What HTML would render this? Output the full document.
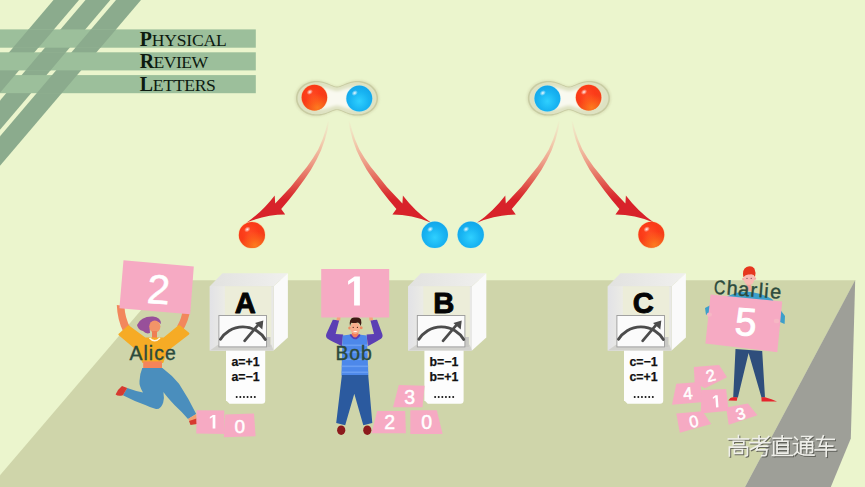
<!DOCTYPE html>
<html><head><meta charset="utf-8"><title>PRL</title>
<style>
html,body{margin:0;padding:0;background:#ebf5cd;}
body{width:865px;height:487px;overflow:hidden;font-family:"Liberation Sans",sans-serif;}
svg{display:block;position:absolute;left:0;top:0;}
text{font-family:"Liberation Sans",sans-serif;}
.serif{font-family:"Liberation Serif",serif;}
</style></head><body>
<svg width="865" height="487" viewBox="0 0 865 487">
<defs>
<radialGradient id="gRed" cx="0.42" cy="0.40" r="0.62">
<stop offset="0" stop-color="#ff4a22"/><stop offset="0.55" stop-color="#fb3a18"/><stop offset="1" stop-color="#f2401a"/>
</radialGradient>
<radialGradient id="gRedGlow" cx="0.62" cy="0.9" r="0.55">
<stop offset="0" stop-color="#ff8a20" stop-opacity="0.8"/><stop offset="1" stop-color="#ff8a20" stop-opacity="0"/>
</radialGradient>
<radialGradient id="gBlue" cx="0.5" cy="0.6" r="0.6">
<stop offset="0" stop-color="#2fd0ff"/><stop offset="0.6" stop-color="#18b4f2"/><stop offset="1" stop-color="#12a6ea"/>
</radialGradient>
<radialGradient id="gHi" cx="0.5" cy="0.5" r="0.5">
<stop offset="0" stop-color="#ffffff" stop-opacity="0.95"/><stop offset="0.5" stop-color="#ffffff" stop-opacity="0.45"/><stop offset="1" stop-color="#ffffff" stop-opacity="0"/>
</radialGradient>
<filter id="b1" x="-20%" y="-20%" width="140%" height="140%"><feGaussianBlur stdDeviation="0.6"/></filter>
<filter id="b2" x="-20%" y="-20%" width="140%" height="140%"><feGaussianBlur stdDeviation="2.2"/></filter>
<filter id="b3" x="-20%" y="-20%" width="140%" height="140%"><feGaussianBlur stdDeviation="1.0"/></filter>
<linearGradient id="gArrow" x1="0" y1="120" x2="0" y2="200" gradientUnits="userSpaceOnUse">
<stop offset="0" stop-color="#f3d6bc" stop-opacity="0"/>
<stop offset="0.12" stop-color="#f3d6bc" stop-opacity="0.55"/>
<stop offset="0.3" stop-color="#f2c4a8" stop-opacity="0.9"/>
<stop offset="0.52" stop-color="#eea08a" stop-opacity="1"/>
<stop offset="0.74" stop-color="#e4685a" stop-opacity="1"/>
<stop offset="0.92" stop-color="#da3434" stop-opacity="1"/>
<stop offset="1" stop-color="#d8222a" stop-opacity="1"/>
</linearGradient>
<linearGradient id="gTop" x1="0" y1="0" x2="1" y2="0">
<stop offset="0" stop-color="#e2e2e0"/><stop offset="1" stop-color="#f0f0ee"/>
</linearGradient>
<linearGradient id="gInL" x1="0" y1="0" x2="1" y2="0">
<stop offset="0" stop-color="#e2e2e6"/><stop offset="1" stop-color="#ecece6"/>
</linearGradient>
</defs>

<polygon points="166.6,280.2 855.2,280.2 745,487 0,487 0,475.2" fill="#cfd5aa"/>
<polygon points="855.2,280 850.8,438.5 830.8,487 745,487" fill="#9e9f98"/>
<polygon points="53.5,0 79.0,0 -69.9,175 -95.4,175" fill="#8bab8d"/>
<polygon points="85.5,0 110.3,0 -38.6,175 -63.4,175" fill="#8bab8d"/>
<polygon points="116.0,0 141.0,0 -7.9,175 -32.9,175" fill="#8bab8d"/>
<rect x="0" y="29.4" width="255.8" height="18.3" fill="#9cbf9b"/>
<rect x="0" y="52.3" width="255.8" height="18.1" fill="#9cbf9b"/>
<rect x="0" y="75.1" width="255.8" height="18.1" fill="#9cbf9b"/>
<polygon points="28.5,29.4 54.0,29.4 38.4,47.7 12.9,47.7" fill="#8bab8d"/>
<polygon points="91.0,29.4 116.0,29.4 100.4,47.7 75.4,47.7" fill="#8bab8d"/>
<polygon points="41.0,52.3 65.8,52.3 50.4,70.4 25.6,70.4" fill="#8bab8d"/>
<polygon points="-10.4,75.1 15.1,75.1 -0.3,93.2 -25.8,93.2" fill="#8bab8d"/>
<polygon points="52.1,75.1 77.1,75.1 61.7,93.2 36.7,93.2" fill="#8bab8d"/>
<text class="serif" x="139.8" y="45.6" fill="#0d1a10" letter-spacing="-0.22"><tspan font-size="19.9" font-weight="bold">P</tspan><tspan font-size="17.6">HYSICAL</tspan></text>
<text class="serif" x="139.8" y="68.4" fill="#0d1a10" letter-spacing="-0.56"><tspan font-size="19.9" font-weight="bold">R</tspan><tspan font-size="17.6">EVIEW</tspan></text>
<text class="serif" x="139.8" y="91.3" fill="#0d1a10" letter-spacing="-0.28"><tspan font-size="19.9" font-weight="bold">L</tspan><tspan font-size="17.6">ETTERS</tspan></text>
<defs><path id="mb" d="M-41.01,-0.00 L-40.98,-0.97 L-40.88,-1.94 L-40.73,-2.91 L-40.51,-3.86 L-40.22,-4.81 L-39.88,-5.74 L-39.47,-6.66 L-39.00,-7.55 L-38.48,-8.43 L-37.89,-9.28 L-37.24,-10.10 L-36.54,-10.89 L-35.78,-11.66 L-34.97,-12.38 L-34.10,-13.07 L-33.18,-13.72 L-32.21,-14.32 L-31.18,-14.88 L-30.11,-15.38 L-29.00,-15.84 L-27.84,-16.24 L-26.63,-16.58 L-25.39,-16.86 L-24.11,-17.08 L-22.78,-17.23 L-21.43,-17.30 L-20.04,-17.31 L-18.62,-17.23 L-17.17,-17.08 L-15.69,-16.84 L-14.19,-16.51 L-12.67,-16.10 L-11.13,-15.59 L-9.57,-15.01 L-8.00,-14.35 L-6.42,-13.66 L-4.82,-12.96 L-3.22,-12.34 L-1.61,-11.90 L-0.00,-11.74 L1.61,-11.90 L3.22,-12.34 L4.82,-12.96 L6.42,-13.66 L8.00,-14.35 L9.57,-15.01 L11.13,-15.59 L12.67,-16.10 L14.19,-16.51 L15.69,-16.84 L17.17,-17.08 L18.62,-17.23 L20.04,-17.31 L21.43,-17.30 L22.78,-17.23 L24.11,-17.08 L25.39,-16.86 L26.63,-16.58 L27.84,-16.24 L29.00,-15.84 L30.11,-15.38 L31.18,-14.88 L32.21,-14.32 L33.18,-13.72 L34.10,-13.07 L34.97,-12.38 L35.78,-11.66 L36.54,-10.89 L37.24,-10.10 L37.89,-9.28 L38.48,-8.43 L39.00,-7.55 L39.47,-6.66 L39.88,-5.74 L40.22,-4.81 L40.51,-3.86 L40.73,-2.91 L40.88,-1.94 L40.98,-0.97 L41.01,-0.00 L40.98,0.97 L40.88,1.94 L40.73,2.91 L40.51,3.86 L40.22,4.81 L39.88,5.74 L39.47,6.66 L39.00,7.55 L38.48,8.43 L37.89,9.28 L37.24,10.10 L36.54,10.89 L35.78,11.66 L34.97,12.38 L34.10,13.07 L33.18,13.72 L32.21,14.32 L31.18,14.88 L30.11,15.38 L29.00,15.84 L27.84,16.24 L26.63,16.58 L25.39,16.86 L24.11,17.08 L22.78,17.23 L21.43,17.30 L20.04,17.31 L18.62,17.23 L17.17,17.08 L15.69,16.84 L14.19,16.51 L12.67,16.10 L11.13,15.59 L9.57,15.01 L8.00,14.35 L6.42,13.66 L4.82,12.96 L3.22,12.34 L1.61,11.90 L-0.00,11.74 L-1.61,11.90 L-3.22,12.34 L-4.82,12.96 L-6.42,13.66 L-8.00,14.35 L-9.57,15.01 L-11.13,15.59 L-12.67,16.10 L-14.19,16.51 L-15.69,16.84 L-17.17,17.08 L-18.62,17.23 L-20.04,17.31 L-21.43,17.30 L-22.78,17.23 L-24.11,17.08 L-25.39,16.86 L-26.63,16.58 L-27.84,16.24 L-29.00,15.84 L-30.11,15.38 L-31.18,14.88 L-32.21,14.32 L-33.18,13.72 L-34.10,13.07 L-34.97,12.38 L-35.78,11.66 L-36.54,10.89 L-37.24,10.10 L-37.89,9.28 L-38.48,8.43 L-39.00,7.55 L-39.47,6.66 L-39.88,5.74 L-40.22,4.81 L-40.51,3.86 L-40.73,2.91 L-40.88,1.94 L-40.98,0.97 Z"/></defs>
<g transform="translate(337.0,98.3)">
<use href="#mb" fill="#d9ddb6" transform="scale(1.03,1.05)" filter="url(#b3)" opacity="0.8"/>
<use href="#mb" fill="#c8cca2" filter="url(#b1)"/>
<use href="#mb" fill="#dee2c2" transform="scale(0.962,0.925)" filter="url(#b1)"/>
<use href="#mb" fill="#f9f9f0" transform="scale(0.8,0.62)" filter="url(#b2)"/>
</g>
<circle cx="314.4" cy="97.6" r="13.4" fill="#ffb060" opacity="0.35" filter="url(#b1)"/>
<circle cx="314.4" cy="97.6" r="12.8" fill="url(#gRed)"/>
<circle cx="314.4" cy="97.6" r="12.8" fill="url(#gRedGlow)"/>
<ellipse cx="309.79999999999995" cy="92.0" rx="3.4" ry="2.6" fill="url(#gHi)" transform="rotate(-35 309.79999999999995 92.0)"/>
<circle cx="359.3" cy="98.6" r="13.6" fill="#9fe6ff" opacity="0.35" filter="url(#b1)"/>
<circle cx="359.3" cy="98.6" r="13.0" fill="url(#gBlue)"/>
<ellipse cx="354.7" cy="93.0" rx="3.4" ry="2.6" fill="url(#gHi)" transform="rotate(-35 354.7 93.0)"/>
<g transform="translate(568.9,98.3)">
<use href="#mb" fill="#d9ddb6" transform="scale(1.03,1.05)" filter="url(#b3)" opacity="0.8"/>
<use href="#mb" fill="#c8cca2" filter="url(#b1)"/>
<use href="#mb" fill="#dee2c2" transform="scale(0.962,0.925)" filter="url(#b1)"/>
<use href="#mb" fill="#f9f9f0" transform="scale(0.8,0.62)" filter="url(#b2)"/>
</g>
<circle cx="547.4" cy="98.6" r="13.6" fill="#9fe6ff" opacity="0.35" filter="url(#b1)"/>
<circle cx="547.4" cy="98.6" r="13.0" fill="url(#gBlue)"/>
<ellipse cx="542.8" cy="93.0" rx="3.4" ry="2.6" fill="url(#gHi)" transform="rotate(-35 542.8 93.0)"/>
<circle cx="588.6" cy="97.6" r="13.4" fill="#ffb060" opacity="0.35" filter="url(#b1)"/>
<circle cx="588.6" cy="97.6" r="12.8" fill="url(#gRed)"/>
<circle cx="588.6" cy="97.6" r="12.8" fill="url(#gRedGlow)"/>
<ellipse cx="584.0" cy="92.0" rx="3.4" ry="2.6" fill="url(#gHi)" transform="rotate(-35 584.0 92.0)"/>
<path d="M328.0,120.6 L325.7,129.8 L322.6,139.2 L318.2,149.4 L312.9,158.3 L306.8,167.1 L299.9,175.5 L290.7,186.9 L283.2,195.0 L275.2,203.6 L274.7,195.4 Q262.5,211.5 246.4,222.7 Q266,214.6 285.2,214.6 L281.2,209.0 L288.8,200.0 L295.9,191.1 L304.7,179.1 L310.8,169.9 L316.3,160.3 L321.0,150.6 L324.8,140.0 L327.5,130.2 L329.2,120.8 Z" fill="url(#gArrow)" transform="translate(0,0)"/>
<path d="M328.0,120.6 L325.7,129.8 L322.6,139.2 L318.2,149.4 L312.9,158.3 L306.8,167.1 L299.9,175.5 L290.7,186.9 L283.2,195.0 L275.2,203.6 L274.7,195.4 Q262.5,211.5 246.4,222.7 Q266,214.6 285.2,214.6 L281.2,209.0 L288.8,200.0 L295.9,191.1 L304.7,179.1 L310.8,169.9 L316.3,160.3 L321.0,150.6 L324.8,140.0 L327.5,130.2 L329.2,120.8 Z" fill="url(#gArrow)" transform="translate(677.6,0) scale(-1,1)"/>
<path d="M328.0,120.6 L325.7,129.8 L322.6,139.2 L318.2,149.4 L312.9,158.3 L306.8,167.1 L299.9,175.5 L290.7,186.9 L283.2,195.0 L275.2,203.6 L274.7,195.4 Q262.5,211.5 246.4,222.7 Q266,214.6 285.2,214.6 L281.2,209.0 L288.8,200.0 L295.9,191.1 L304.7,179.1 L310.8,169.9 L316.3,160.3 L321.0,150.6 L324.8,140.0 L327.5,130.2 L329.2,120.8 Z" fill="url(#gArrow)" transform="translate(230.6,0)"/>
<path d="M328.0,120.6 L325.7,129.8 L322.6,139.2 L318.2,149.4 L312.9,158.3 L306.8,167.1 L299.9,175.5 L290.7,186.9 L283.2,195.0 L275.2,203.6 L274.7,195.4 Q262.5,211.5 246.4,222.7 Q266,214.6 285.2,214.6 L281.2,209.0 L288.8,200.0 L295.9,191.1 L304.7,179.1 L310.8,169.9 L316.3,160.3 L321.0,150.6 L324.8,140.0 L327.5,130.2 L329.2,120.8 Z" fill="url(#gArrow)" transform="translate(900.6,0) scale(-1,1)"/>
<circle cx="251.9" cy="235.0" r="13.7" fill="#ffb060" opacity="0.35" filter="url(#b1)"/>
<circle cx="251.9" cy="235.0" r="13.1" fill="url(#gRed)"/>
<circle cx="251.9" cy="235.0" r="13.1" fill="url(#gRedGlow)"/>
<ellipse cx="247.3" cy="229.4" rx="3.4" ry="2.6" fill="url(#gHi)" transform="rotate(-35 247.3 229.4)"/>
<circle cx="434.8" cy="234.8" r="13.799999999999999" fill="#9fe6ff" opacity="0.35" filter="url(#b1)"/>
<circle cx="434.8" cy="234.8" r="13.2" fill="url(#gBlue)"/>
<ellipse cx="430.2" cy="229.20000000000002" rx="3.4" ry="2.6" fill="url(#gHi)" transform="rotate(-35 430.2 229.20000000000002)"/>
<circle cx="470.7" cy="234.8" r="13.799999999999999" fill="#9fe6ff" opacity="0.35" filter="url(#b1)"/>
<circle cx="470.7" cy="234.8" r="13.2" fill="url(#gBlue)"/>
<ellipse cx="466.09999999999997" cy="229.20000000000002" rx="3.4" ry="2.6" fill="url(#gHi)" transform="rotate(-35 466.09999999999997 229.20000000000002)"/>
<circle cx="651.3" cy="234.8" r="13.6" fill="#ffb060" opacity="0.35" filter="url(#b1)"/>
<circle cx="651.3" cy="234.8" r="13.0" fill="url(#gRed)"/>
<circle cx="651.3" cy="234.8" r="13.0" fill="url(#gRedGlow)"/>
<ellipse cx="646.6999999999999" cy="229.20000000000002" rx="3.4" ry="2.6" fill="url(#gHi)" transform="rotate(-35 646.6999999999999 229.20000000000002)"/>
<g transform="translate(0,0)">
<path d="M226,349 L265.2,349 L265.2,400.5 Q265.2,403.7 262,403.7 L229.5,403.7 L226,400.2 Z" fill="#fdfdfd"/>
<text x="245.5" y="366.4" font-size="12.3" font-weight="bold" text-anchor="middle" fill="#111" stroke="#111" stroke-width="0.25">a=+1</text>
<text x="245.5" y="381.3" font-size="12.3" font-weight="bold" text-anchor="middle" fill="#111" stroke="#111" stroke-width="0.25">a=−1</text>
<circle cx="236.70" cy="397.1" r="1.0" fill="#111"/>
<circle cx="240.32" cy="397.1" r="1.0" fill="#111"/>
<circle cx="243.94" cy="397.1" r="1.0" fill="#111"/>
<circle cx="247.56" cy="397.1" r="1.0" fill="#111"/>
<circle cx="251.18" cy="397.1" r="1.0" fill="#111"/>
<circle cx="254.80" cy="397.1" r="1.0" fill="#111"/>
<polygon points="222.5,273.3 287.9,273.3 273.6,286.2 209.8,286.2" fill="url(#gTop)"/>
<polygon points="273.6,286.2 287.9,273.3 287.9,337.6 273.6,350.6" fill="#fafafa"/>
<rect x="209.8" y="286.2" width="63.8" height="64.4" fill="#e8e8e6"/>
<rect x="209.8" y="286.2" width="15.5" height="64.4" fill="url(#gInL)"/>
<rect x="224.9" y="286.2" width="46.5" height="58.5" fill="#ecedd9"/>
<polygon points="209.8,350.6 273.6,350.6 271.4,344.7 218,344.7" fill="#d2d2ce"/>
<rect x="266.5" y="337" width="4" height="10" fill="#c9c9c5"/>
<rect x="218.9" y="315.5" width="47.6" height="31.4" fill="#fbfbfb" stroke="#9a9a9a" stroke-width="0.9"/>
<path d="M220.5,339.3 A26,25.4 0 0 1 265.3,339.4" fill="none" stroke="#4c4c4c" stroke-width="2.9" stroke-linecap="round"/>
<path d="M244.6,340.8 L258.6,324.4" fill="none" stroke="#4c4c4c" stroke-width="2.7" stroke-linecap="round"/>
<polygon points="263.3,320.5 255.0,323.0 262.3,329.6" fill="#4c4c4c"/>
<text x="245.3" y="313.0" font-size="29.2" font-weight="bold" text-anchor="middle" fill="#050505" stroke="#050505" stroke-width="0.9" stroke-linejoin="round">A</text>
</g>
<g transform="translate(198.4,0)">
<path d="M226,349 L265.2,349 L265.2,400.5 Q265.2,403.7 262,403.7 L229.5,403.7 L226,400.2 Z" fill="#fdfdfd"/>
<text x="245.5" y="366.4" font-size="12.3" font-weight="bold" text-anchor="middle" fill="#111" stroke="#111" stroke-width="0.25">b=−1</text>
<text x="245.5" y="381.3" font-size="12.3" font-weight="bold" text-anchor="middle" fill="#111" stroke="#111" stroke-width="0.25">b=+1</text>
<circle cx="236.70" cy="397.1" r="1.0" fill="#111"/>
<circle cx="240.32" cy="397.1" r="1.0" fill="#111"/>
<circle cx="243.94" cy="397.1" r="1.0" fill="#111"/>
<circle cx="247.56" cy="397.1" r="1.0" fill="#111"/>
<circle cx="251.18" cy="397.1" r="1.0" fill="#111"/>
<circle cx="254.80" cy="397.1" r="1.0" fill="#111"/>
<polygon points="222.5,273.3 287.9,273.3 273.6,286.2 209.8,286.2" fill="url(#gTop)"/>
<polygon points="273.6,286.2 287.9,273.3 287.9,337.6 273.6,350.6" fill="#fafafa"/>
<rect x="209.8" y="286.2" width="63.8" height="64.4" fill="#e8e8e6"/>
<rect x="209.8" y="286.2" width="15.5" height="64.4" fill="url(#gInL)"/>
<rect x="224.9" y="286.2" width="46.5" height="58.5" fill="#ecedd9"/>
<polygon points="209.8,350.6 273.6,350.6 271.4,344.7 218,344.7" fill="#d2d2ce"/>
<rect x="266.5" y="337" width="4" height="10" fill="#c9c9c5"/>
<rect x="218.9" y="315.5" width="47.6" height="31.4" fill="#fbfbfb" stroke="#9a9a9a" stroke-width="0.9"/>
<path d="M220.5,339.3 A26,25.4 0 0 1 265.3,339.4" fill="none" stroke="#4c4c4c" stroke-width="2.9" stroke-linecap="round"/>
<path d="M244.6,340.8 L258.6,324.4" fill="none" stroke="#4c4c4c" stroke-width="2.7" stroke-linecap="round"/>
<polygon points="263.3,320.5 255.0,323.0 262.3,329.6" fill="#4c4c4c"/>
<text x="245.3" y="313.0" font-size="29.2" font-weight="bold" text-anchor="middle" fill="#050505" stroke="#050505" stroke-width="0.9" stroke-linejoin="round">B</text>
</g>
<g transform="translate(398,0)">
<path d="M226,349 L265.2,349 L265.2,400.5 Q265.2,403.7 262,403.7 L229.5,403.7 L226,400.2 Z" fill="#fdfdfd"/>
<text x="245.5" y="366.4" font-size="12.3" font-weight="bold" text-anchor="middle" fill="#111" stroke="#111" stroke-width="0.25">c=−1</text>
<text x="245.5" y="381.3" font-size="12.3" font-weight="bold" text-anchor="middle" fill="#111" stroke="#111" stroke-width="0.25">c=+1</text>
<circle cx="236.70" cy="397.1" r="1.0" fill="#111"/>
<circle cx="240.32" cy="397.1" r="1.0" fill="#111"/>
<circle cx="243.94" cy="397.1" r="1.0" fill="#111"/>
<circle cx="247.56" cy="397.1" r="1.0" fill="#111"/>
<circle cx="251.18" cy="397.1" r="1.0" fill="#111"/>
<circle cx="254.80" cy="397.1" r="1.0" fill="#111"/>
<polygon points="222.5,273.3 287.9,273.3 273.6,286.2 209.8,286.2" fill="url(#gTop)"/>
<polygon points="273.6,286.2 287.9,273.3 287.9,337.6 273.6,350.6" fill="#fafafa"/>
<rect x="209.8" y="286.2" width="63.8" height="64.4" fill="#e8e8e6"/>
<rect x="209.8" y="286.2" width="15.5" height="64.4" fill="url(#gInL)"/>
<rect x="224.9" y="286.2" width="46.5" height="58.5" fill="#ecedd9"/>
<polygon points="209.8,350.6 273.6,350.6 271.4,344.7 218,344.7" fill="#d2d2ce"/>
<rect x="266.5" y="337" width="4" height="10" fill="#c9c9c5"/>
<rect x="218.9" y="315.5" width="47.6" height="31.4" fill="#fbfbfb" stroke="#9a9a9a" stroke-width="0.9"/>
<path d="M220.5,339.3 A26,25.4 0 0 1 265.3,339.4" fill="none" stroke="#4c4c4c" stroke-width="2.9" stroke-linecap="round"/>
<path d="M244.6,340.8 L258.6,324.4" fill="none" stroke="#4c4c4c" stroke-width="2.7" stroke-linecap="round"/>
<polygon points="263.3,320.5 255.0,323.0 262.3,329.6" fill="#4c4c4c"/>
<text x="245.3" y="313.0" font-size="29.2" font-weight="bold" text-anchor="middle" fill="#050505" stroke="#050505" stroke-width="0.9" stroke-linejoin="round">C</text>
</g>
<g>
<path d="M116.8,305 L124.4,306 Q125,318 130.2,327.4 L123.4,332 Q117.4,320 116.8,305 Z" fill="#f2875c"/>
<path d="M183,309 L190.2,310 Q188.6,321 182.8,330.4 L177.2,326 Q181.8,318 183,309 Z" fill="#f2875c"/>
<path d="M137,325 Q141,316 153,316.5 Q161,317 161,324 Q158,321 152,322 Q149,328 150,333 Q146,334.5 143,331 Q138,330 137,325 Z" fill="#98509a"/>
<ellipse cx="154.8" cy="326.6" rx="5.6" ry="6.2" fill="#f39468"/>
<rect x="152" y="331" width="5" height="8" fill="#ee7f55"/>
<path d="M119.4,334.5 L128.4,326.4 L145,338.6 L164,338.6 L179.2,326 L188.4,333.6 L166,351 L162.6,362 L143,362 L139,351 Z" fill="#f6ab25" stroke="#f6ab25" stroke-width="2" stroke-linejoin="round"/>
<path d="M149.5,338 Q154.5,343.5 160,338" fill="none" stroke="#fff6e8" stroke-width="1.6"/>
<rect x="143.2" y="361.4" width="18.8" height="7" fill="#f4845a"/>
<path d="M142.3,367.9 L162.4,367.9 Q172,375 179,383.7 Q189,399 196.2,413.9 L188,419 Q181,411 174.7,405.3 Q167,397 163.4,392 Q164.5,398 163.2,402.4 Q161,409.5 156,409 Q150,407.5 145.9,405.3 Q134,401 122.9,395.2 L127.2,388 Q135,391 143,392.4 Q139,386 139.5,380.9 Q140,373 142.3,367.9 Z" fill="#4a8ebd"/>
<path d="M127.2,388 L122.9,395.2 Q118,396.5 115.6,394.5 Q118,389 122,386 Z" fill="#d63a30"/>
<path d="M188,419 L196.2,413.9 L197,419 L191,423 Z" fill="#f2a070"/>
<path d="M189,421 L196.5,418.5 L197,424 L190.5,425 Z" fill="#d63a30"/>
</g>
<polygon points="123.5,260.3 193.8,266.6 190.2,314.2 119.4,308.2" fill="#f6aac3"/>
<text x="158.6" y="289.5" font-size="41" text-anchor="middle" fill="#fff" stroke="#fff" stroke-width="0.55" font-weight="normal" transform="rotate(4 158.6 289.5)" dominant-baseline="central">2</text>
<text x="129.4" y="359.6" font-size="19.4" fill="#2c4a3c" stroke="#2c4a3c" stroke-width="0.35" letter-spacing="1.1">Alice</text>
<polygon points="196.6,410.3 224.2,410.6 224.8,434 196.3,433.6" fill="#f6aac3"/>
<polygon points="215.37,415.00 212.88,415.00 209.83,417.02 209.83,418.80 212.65,417.11 212.65,428.60 215.37,428.60" fill="#fff" transform="rotate(0 212.6 421.8)"/>
<polygon points="225.2,414.4 254,413.4 255.6,436.2 223.8,437.2" fill="#f6aac3"/>
<text x="239.8" y="426" font-size="19" text-anchor="middle" fill="#fff" stroke="#fff" stroke-width="0.5" font-weight="normal" transform="rotate(0 239.8 426)" dominant-baseline="central">0</text>
<g>
<path d="M332.8,319.8 L339.2,320.3 L335.6,334 L343.2,334.6 L342,346.2 Q333,342 327.6,338.8 Q325.2,337 326.4,333.8 Z" fill="#5b3fb4"/>
<path d="M377,319.8 L370.4,320.3 L374,334 L366.6,334.6 L367.8,346.2 Q376,342 381,338.8 Q383.4,337 382.2,333.8 Z" fill="#5b3fb4"/>
<path d="M336.4,320.2 L337.4,315.2 L340.6,315.8 L340.2,320.6 Z" fill="#f6a27e"/>
<path d="M369.4,320.6 L369,315.8 L372.2,315.2 L373.2,320.2 Z" fill="#f6a27e"/>
<path d="M342.6,335.4 L350.6,334.6 Q354.6,339.6 358.8,334.6 L366.8,335.4 L368.4,375.6 L341.4,375.6 Z" fill="#4d88ea"/>
<rect x="341.8" y="344.5" width="26.4" height="1.6" fill="#6ea2f4" opacity="0.85"/>
<rect x="341.8" y="351.5" width="26.4" height="1.6" fill="#6ea2f4" opacity="0.85"/>
<rect x="341.8" y="358.5" width="26.4" height="1.6" fill="#6ea2f4" opacity="0.85"/>
<rect x="341.8" y="365.5" width="26.4" height="1.6" fill="#6ea2f4" opacity="0.85"/>
<rect x="341.8" y="371.5" width="26.4" height="1.6" fill="#6ea2f4" opacity="0.85"/>
<path d="M350.4,334.4 Q355,342.4 359.8,334.4" fill="#f47e5c" stroke="#5b3fb4" stroke-width="1.9"/>
<rect x="351.9" y="331.5" width="6.4" height="3.6" fill="#f47e5c"/>
<circle cx="349.7" cy="328" r="1.5" fill="#ee8a62"/><circle cx="361.1" cy="327.7" r="1.5" fill="#ee8a62"/>
<ellipse cx="355.2" cy="328.2" rx="4.9" ry="5.9" fill="#f8ae8e"/>
<path d="M350,326.2 Q348.6,319.2 353.4,317.2 Q358.4,315.8 361,319.4 Q362,323 360.6,326 Q360,323.2 358,322.4 Q354,323.6 351.4,322.8 Q350.4,324 350,326.2 Z" fill="#3d1a14"/>
<path d="M353,331 Q355.2,333 357.6,331 Z" fill="#fff"/>
<circle cx="353.2" cy="327.4" r="0.6" fill="#4a2a20"/><circle cx="357.4" cy="327.4" r="0.6" fill="#4a2a20"/>
<path d="M341.9,374.9 L368.2,374.9 L372.3,423 L363.3,425.2 L354.3,393.7 L345.2,425.2 L336.2,423 Z" fill="#2b5a9f"/>
<ellipse cx="341.2" cy="430.2" rx="4.1" ry="4.8" fill="#8c1a1c"/>
<ellipse cx="367.3" cy="430.2" rx="4.1" ry="4.8" fill="#8c1a1c"/>
</g>
<polygon points="321.2,268.9 389.2,268.9 389.2,317.6 321.2,317.6" fill="#f6aac3"/>
<polygon points="359.90,276.60 354.60,276.60 348.10,280.90 348.10,284.70 354.10,281.10 354.10,305.60 359.90,305.60" fill="#fff" transform="rotate(0 354.0 291.1)"/>
<text x="335.4" y="359.6" font-size="19.4" fill="#2c4a3c" stroke="#2c4a3c" stroke-width="0.35" letter-spacing="0.9">Bob</text>
<polygon points="398.8,385.1 424.6,385.8 422.5,407.3 393,407.3" fill="#f6aac3"/>
<text x="409.6" y="396.6" font-size="19.5" text-anchor="middle" fill="#fff" stroke="#fff" stroke-width="0.5" font-weight="normal" transform="rotate(0 409.6 396.6)" dominant-baseline="central">3</text>
<polygon points="377.2,410.9 405.2,410.9 405.9,433.2 371.5,433.2" fill="#f6aac3"/>
<text x="389.8" y="421.8" font-size="19.5" text-anchor="middle" fill="#fff" stroke="#fff" stroke-width="0.5" font-weight="normal" transform="rotate(0 389.8 421.8)" dominant-baseline="central">2</text>
<polygon points="410.3,410.2 436.8,410.2 442.6,433.9 410.3,433.9" fill="#f6aac3"/>
<text x="426.6" y="421.8" font-size="19.5" text-anchor="middle" fill="#fff" stroke="#fff" stroke-width="0.5" font-weight="normal" transform="rotate(0 426.6 421.8)" dominant-baseline="central">0</text>
<g>
<path d="M728,296 Q748,286 772,299 L785,316 L784.6,324 L780,322 L776,340 L716,332 L712,312 L706,315 L705,308 Z" fill="#3c9fca"/>
<rect x="746.6" y="283" width="4.6" height="8" fill="#f4a59c"/>
<circle cx="743.4" cy="279" r="1.3" fill="#f6a8a4"/><circle cx="754.8" cy="278.6" r="1.3" fill="#f6a8a4"/>
<ellipse cx="749" cy="279" rx="5.3" ry="5.9" fill="#f9b9b4"/>
<path d="M743.4,277.2 Q741.8,269.4 746.6,267 Q751.4,264.8 754.4,268.6 Q756.2,272.6 755,277 Q753.4,273.6 749.6,274.6 Q746,273.8 743.4,277.2 Z" fill="#e6361e"/>
<circle cx="747" cy="278.4" r="0.55" fill="#7a4a4a"/><circle cx="751.2" cy="278.4" r="0.55" fill="#7a4a4a"/>
<path d="M735.5,349 L762.2,351 L765,397.6 L761.5,397.6 L748.6,353 L737.9,397.6 L733.2,397.6 Z" fill="#2f4e7c"/>
<path d="M728.4,400.6 Q730,397.2 733.2,397.2 L737.4,397.2 L736.8,400.8 Z" fill="#e6242c"/>
<path d="M761.4,397.2 L765,397.2 Q772,399 777,401.4 L761.6,401.4 Z" fill="#e6242c"/>
</g>
<polygon points="710.6,294.6 782.2,301.5 777.3,352.2 705.4,343.4" fill="#f6aac3"/>
<text x="745.8" y="322.0" font-size="39" text-anchor="middle" fill="#fff" stroke="#fff" stroke-width="0.9" font-weight="normal" transform="rotate(4.5 745.8 322.0)" dominant-baseline="central">5</text>
<ellipse cx="709.4" cy="314.6" rx="2.6" ry="2.2" fill="#f6b7c4"/>
<ellipse cx="776.6" cy="321" rx="2.8" ry="2.2" fill="#f6b7c4"/>
<g transform="rotate(4.3 714.0 293.7)" font-size="19.8" fill="#2c4a3c" stroke="#2c4a3c" stroke-width="0.4">
<text transform="translate(713.6,293.7) scale(0.8,1)" x="0" y="0">C</text>
<text x="726.4 737.8 750.2 758.4 764.0 770.0" y="293.7">harlie</text>
</g>
<polygon points="693.8,366.9 719.1,365.1 727,377.3 705.1,388.2 694.7,382.9" fill="#f6aac3"/>
<text x="710.6" y="375.2" font-size="16.5" text-anchor="middle" fill="#fff" stroke="#fff" stroke-width="0.5" font-weight="normal" transform="rotate(-15 710.6 375.2)" dominant-baseline="central">2</text>
<polygon points="676.3,383.8 699.9,382.1 703.6,402.1 672,404.7" fill="#f6aac3"/>
<text x="687.8" y="393.8" font-size="17" text-anchor="middle" fill="#fff" stroke="#fff" stroke-width="0.5" font-weight="normal" transform="rotate(-6 687.8 393.8)" dominant-baseline="central">4</text>
<polygon points="701.6,389.9 726.1,389 728.7,410.8 700.8,413.5" fill="#f6aac3"/>
<polygon points="718.08,395.31 715.85,395.31 713.12,397.12 713.12,398.71 715.64,397.20 715.64,407.49 718.08,407.49" fill="#fff" transform="rotate(-4 715.6 401.4)"/>
<polygon points="726.1,407.4 747.9,403.5 757.5,415.2 728.7,424.8" fill="#f6aac3"/>
<text x="740.6" y="413.4" font-size="16.5" text-anchor="middle" fill="#fff" stroke="#fff" stroke-width="0.5" font-weight="normal" transform="rotate(-16 740.6 413.4)" dominant-baseline="central">3</text>
<polygon points="676.3,413.5 702.5,411.2 711.2,423.9 679.8,432.7" fill="#f6aac3"/>
<text x="693.8" y="421.2" font-size="16.5" text-anchor="middle" fill="#fff" stroke="#fff" stroke-width="0.5" font-weight="normal" transform="rotate(-12 693.8 421.2)" dominant-baseline="central">0</text>
<g transform="translate(721.0,431.0) scale(0.14451)" fill="none" stroke="#55564f" stroke-width="11.5" stroke-linecap="square" stroke-linejoin="miter" opacity="0.85">
<path d="M128,38 L128,58"/>
<path d="M58,62 L198,62"/>
<path d="M92,78 L165,78 L165,102 L92,102 Z"/>
<path d="M65,180 L65,118 L190,118 L190,172 Q190,180 176,180"/>
<path d="M100,135 L155,135 L155,162 L100,162 Z"/>
<path d="M228,60 L315,60"/>
<path d="M270,40 L270,88"/>
<path d="M208,88 L345,88"/>
<path d="M338,45 Q290,100 212,135"/>
<path d="M262,112 L330,112"/>
<path d="M262,112 L252,138"/>
<path d="M252,138 L325,138 L320,170 Q318,180 290,178"/>
<path d="M368,58 L495,58"/>
<path d="M430,40 L430,78"/>
<path d="M395,78 L470,78 L470,160 L395,160 Z"/>
<path d="M395,105 L470,105"/>
<path d="M395,132 L470,132"/>
<path d="M372,82 L372,176"/>
<path d="M362,176 L500,176"/>
<path d="M518,50 L536,68"/>
<path d="M508,95 L535,95 L535,150 L514,170"/>
<path d="M535,150 Q545,168 580,172 L650,174"/>
<path d="M565,45 L635,45 L612,64"/>
<path d="M596,58 L612,70"/>
<path d="M560,158 L560,82 L640,82 L640,150 Q640,158 625,157"/>
<path d="M560,105 L640,105"/>
<path d="M560,128 L640,128"/>
<path d="M600,82 L600,158"/>
<path d="M668,65 L790,65"/>
<path d="M715,40 L688,112 L780,112"/>
<path d="M658,138 L800,138"/>
<path d="M735,88 L735,182"/>
</g>
<g transform="translate(720,430) scale(0.14451)" fill="none" stroke="#efefea" stroke-width="11.5" stroke-linecap="square" stroke-linejoin="miter" opacity="1">
<path d="M128,38 L128,58"/>
<path d="M58,62 L198,62"/>
<path d="M92,78 L165,78 L165,102 L92,102 Z"/>
<path d="M65,180 L65,118 L190,118 L190,172 Q190,180 176,180"/>
<path d="M100,135 L155,135 L155,162 L100,162 Z"/>
<path d="M228,60 L315,60"/>
<path d="M270,40 L270,88"/>
<path d="M208,88 L345,88"/>
<path d="M338,45 Q290,100 212,135"/>
<path d="M262,112 L330,112"/>
<path d="M262,112 L252,138"/>
<path d="M252,138 L325,138 L320,170 Q318,180 290,178"/>
<path d="M368,58 L495,58"/>
<path d="M430,40 L430,78"/>
<path d="M395,78 L470,78 L470,160 L395,160 Z"/>
<path d="M395,105 L470,105"/>
<path d="M395,132 L470,132"/>
<path d="M372,82 L372,176"/>
<path d="M362,176 L500,176"/>
<path d="M518,50 L536,68"/>
<path d="M508,95 L535,95 L535,150 L514,170"/>
<path d="M535,150 Q545,168 580,172 L650,174"/>
<path d="M565,45 L635,45 L612,64"/>
<path d="M596,58 L612,70"/>
<path d="M560,158 L560,82 L640,82 L640,150 Q640,158 625,157"/>
<path d="M560,105 L640,105"/>
<path d="M560,128 L640,128"/>
<path d="M600,82 L600,158"/>
<path d="M668,65 L790,65"/>
<path d="M715,40 L688,112 L780,112"/>
<path d="M658,138 L800,138"/>
<path d="M735,88 L735,182"/>
</g>
</svg></body></html>
